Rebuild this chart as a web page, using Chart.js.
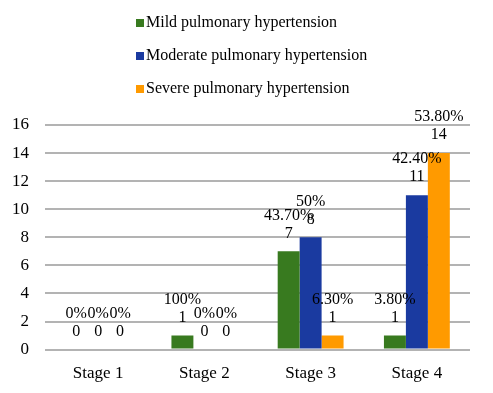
<!DOCTYPE html>
<html>
<head>
<meta charset="utf-8">
<script src="https://cdn.jsdelivr.net/npm/chart.js@4/dist/chart.umd.min.js"></script>
<style>
  html, body { margin: 0; padding: 0; background: #fff; }
  #wrap { width: 493px; height: 393px; }
</style>
</head>
<body>
<div id="wrap"><canvas id="c"></canvas></div>
<script>
// ===== DATA =====
const stages = ["Stage 1", "Stage 2", "Stage 3", "Stage 4"];
const seriesNames = ["Mild pulmonary hypertension", "Moderate pulmonary hypertension", "Severe pulmonary hypertension"];
const mild = [0, 1, 7, 1];
const moderate = [0, 0, 8, 11];
const severe = [0, 0, 1, 14];
const mildPct = ["0%", "100%", "43.70%", "3.80%"];
const moderatePct = ["0%", "0%", "50%", "42.40%"];
const severePct = ["0%", "0%", "6.30%", "53.80%"];
const yTicks = [0, 2, 4, 6, 8, 10, 12, 14, 16];

const colors = ["#387a1f", "#1a3aa0", "#ff9a00"];
const FONT = "'Liberation Serif', 'Times New Roman', serif";

// two-line labels (percent over count) above each bar
const barLabels = {
  id: "barLabels",
  afterDatasetsDraw(chart) {
    const ctx = chart.ctx;
    ctx.save();
    ctx.fillStyle = "#000";
    ctx.textAlign = "center";
    ctx.textBaseline = "middle";
    ctx.font = "16px " + FONT;
    chart.data.datasets.forEach((ds, i) => {
      chart.getDatasetMeta(i).data.forEach((bar, j) => {
        ctx.fillText(String(ds.data[j]), bar.x, bar.y - 18);
        ctx.fillText(ds.pct[j], bar.x, bar.y - 36);
      });
    });
    ctx.restore();
  }
};

// vertical legend at the top
const sideLegend = {
  id: "sideLegend",
  afterDraw(chart) {
    const ctx = chart.ctx;
    ctx.save();
    ctx.font = "16px " + FONT;
    ctx.textBaseline = "middle";
    ctx.textAlign = "left";
    chart.data.datasets.forEach((ds, i) => {
      const y = 23 + i * 33;
      ctx.fillStyle = ds.backgroundColor;
      ctx.fillRect(136, y - 4, 8, 8);
      ctx.fillStyle = "#000";
      ctx.fillText(ds.label, 146, y);
    });
    ctx.restore();
  }
};

new Chart(document.getElementById("c"), {
  type: "bar",
  data: {
    labels: stages,
    datasets: [
      { label: seriesNames[0], data: mild, pct: mildPct, backgroundColor: colors[0] },
      { label: seriesNames[1], data: moderate, pct: moderatePct, backgroundColor: colors[1] },
      { label: seriesNames[2], data: severe, pct: severePct, backgroundColor: colors[2] }
    ]
  },
  options: {
    responsive: true,
    maintainAspectRatio: false,
    animation: false,
    layout: { padding: { top: 125, right: 23, left: 0, bottom: 3 } },
    datasets: { bar: { barPercentage: 1, categoryPercentage: 0.62 } },
    plugins: {
      legend: { display: false },
      tooltip: { enabled: false }
    },
    scales: {
      x: {
        grid: { display: false },
        border: { display: false },
        ticks: { color: "#000", font: { family: FONT, size: 17 }, padding: 6 }
      },
      y: {
        min: 0,
        max: 16,
        afterBuildTicks(axis) { axis.ticks = yTicks.map(v => ({ value: v })); },
        afterFit(axis) { axis.width = 45; },
        grid: { color: "#b3b3b3", lineWidth: 2, drawTicks: false },
        border: { display: false },
        ticks: { color: "#000", font: { family: FONT, size: 17 }, padding: 16 }
      }
    }
  },
  plugins: [barLabels, sideLegend]
});
</script>
</body>
</html>
